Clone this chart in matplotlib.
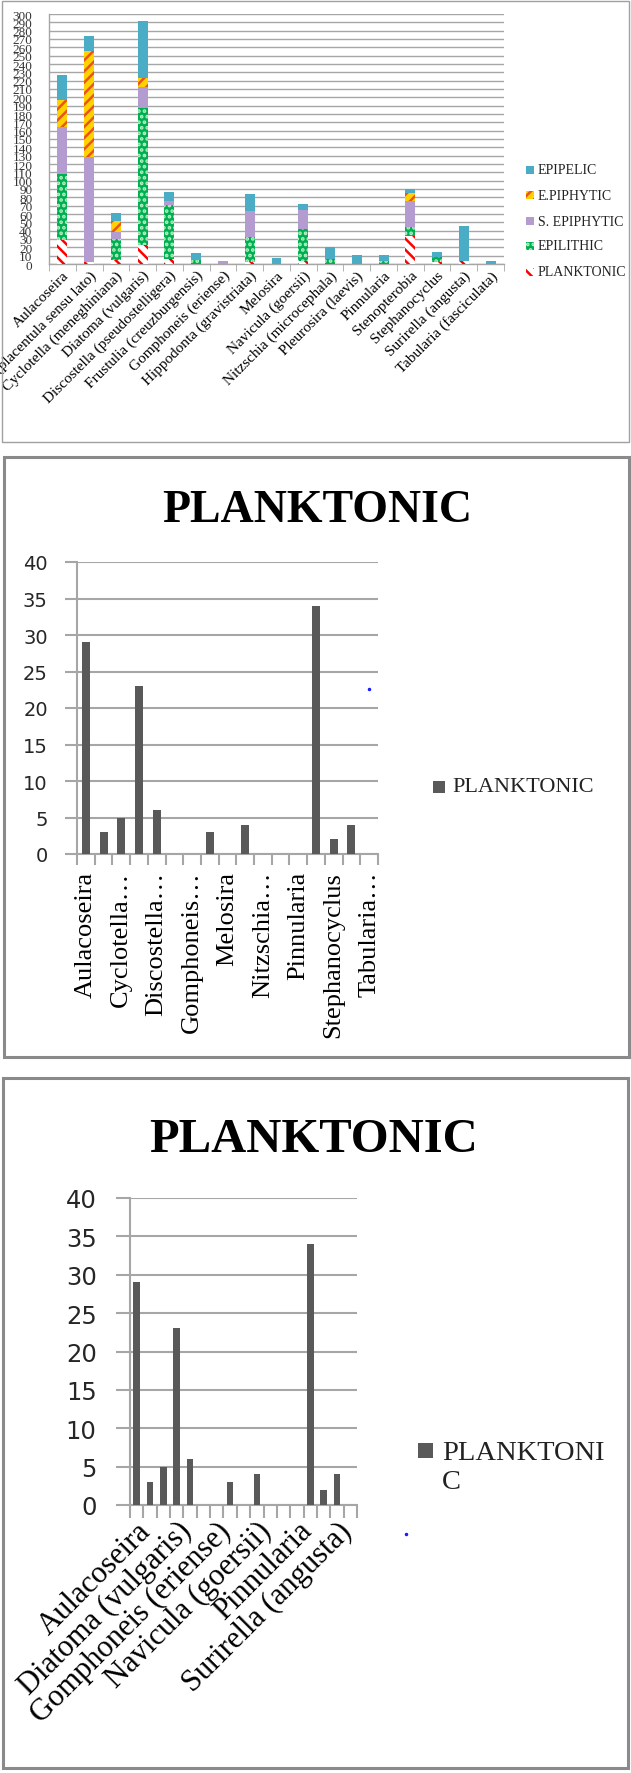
import matplotlib
matplotlib.use("Agg")
import matplotlib.pyplot as plt
from matplotlib.patches import Rectangle
from matplotlib.lines import Line2D
import numpy as np

W, H = 631, 1774

taxa = [
    "Aulacoseira", "Cocconeis (placentula sensu lato)", "Cyclotella (meneghiniana)",
    "Diatoma (vulgaris)", "Discostella (pseudostelligera)", "Frustulia (creuzburgensis)",
    "Gomphoneis (eriense)", "Hippodonta (gravistriata)", "Melosira", "Navicula (goersii)",
    "Nitzschia (microcephala)", "Pleurosira (laevis)", "Pinnularia", "Stenopterobia",
    "Stephanocyclus", "Surirella (angusta)", "Tabularia (fasciculata)",
]
planktonic = [29, 3, 5, 23, 6, 0, 0, 3, 0, 4, 0, 0, 0, 34, 2, 4, 0]
epilithic = [79, 0, 25, 164, 65, 5, 0, 30, 0, 38, 6, 0, 4, 10, 6, 0, 0]
s_epiphytic = [57, 126, 8, 25, 5, 0, 4, 31, 0, 23, 0, 0, 0, 32, 0, 0, 0]
e_piphytic = [32, 127, 14, 11, 0, 0, 0, 0, 0, 0, 0, 0, 0, 9, 0, 0, 0]
epipelic = [30, 18, 9, 69, 11, 8, 0, 20, 7, 7, 15, 11, 7, 5, 7, 42, 4]

panel2_labels = ["Aulacoseira", "Cyclotella…", "Discostella…", "Gomphoneis…", "Melosira",
                 "Nitzschia…", "Pinnularia", "Stephanocyclus", "Tabularia…"]
panel3_labels = ["Aulacoseira", "Diatoma (vulgaris)", "Gomphoneis (eriense)",
                 "Navicula (goersii)", "Pinnularia", "Surirella (angusta)"]

plt.rcParams["hatch.linewidth"] = 1.8
GRID = "#a6a6a6"
FRAME = "#8a8a8a"
BAR = "#595959"
SERIF = "Liberation Serif"


def px_axes(fig, x0, y0, x1, y1):
    return fig.add_axes([x0 / W, 1 - y1 / H, (x1 - x0) / W, (y1 - y0) / H])


def px_rect(fig, x0, y0, x1, y1, **kw):
    fig.add_artist(Rectangle((x0 / W, 1 - y1 / H), (x1 - x0) / W, (y1 - y0) / H,
                             transform=fig.transFigure, **kw))


def px_text(fig, x, y, s, **kw):
    fig.text(x / W, 1 - y / H, s, **kw)


def style_axes(ax, lw):
    for s in ["top", "right"]:
        ax.spines[s].set_visible(False)
    for s in ["left", "bottom"]:
        ax.spines[s].set_color(GRID)
        ax.spines[s].set_linewidth(lw)


fig = plt.figure(figsize=(W / 100, H / 100), dpi=100)
n = len(taxa)
x = np.arange(n)

# panel 1: stacked bars by habitat
px_rect(fig, 2, 2, 629, 443, fill=False, lw=1.0, ec="#a0a0a0")
ax1 = px_axes(fig, 49, 15, 504, 265)
series = [
    ("PLANKTONIC", planktonic, "white", "#ff0000", "\\\\\\"),
    ("EPILITHIC", epilithic, "#00b050", "#b8f0c8", "..."),
    ("S. EPIPHYTIC", s_epiphytic, "#b49bd0", "#b49bd0", None),
    ("E.PIPHYTIC", e_piphytic, "#ffd200", "#e8541c", "///"),
    ("EPIPELIC", epipelic, "#4bacc6", "#4bacc6", None),
]
bottom = np.zeros(n)
for name, vals, face, hcol, hatch in series:
    ax1.bar(x, vals, 0.37, bottom=bottom, color=face, edgecolor=hcol, hatch=hatch, linewidth=0, zorder=3)
    bottom += np.array(vals)
ax1.set_xlim(-0.5, n - 0.5)
ax1.set_ylim(0, 300)
ax1.set_yticks(range(0, 301, 10))
ax1.tick_params(axis="y", length=0, pad=12, labelsize=9.5, labelcolor="#333333")
for lab in ax1.get_yticklabels():
    lab.set_family(SERIF)
ax1.grid(axis="y", color=GRID, lw=1.0, zorder=0)
ax1.set_xticks(x)
ax1.set_xticklabels(taxa, rotation=45, ha="right", va="top", rotation_mode="anchor",
                    family=SERIF, fontsize=11)
ax1.tick_params(axis="x", length=0, pad=3)
ax1.set_xticks(np.arange(-0.5, n, 1), minor=True)
ax1.tick_params(axis="x", which="minor", length=5, color=GRID)
style_axes(ax1, 1.0)

legend_y = [273, 247, 222, 196, 171]
for (name, vals, face, hcol, hatch), ly in zip(series, legend_y):
    px_rect(fig, 526, ly - 4, 534, ly + 4, facecolor=face, edgecolor=hcol, hatch=hatch, lw=0)
    px_text(fig, 538, ly, name, family=SERIF, fontsize=10, va="center", color="#222222")

# panel 2: planktonic, vertical labels
px_rect(fig, 4, 458, 629, 1058, fill=False, lw=2.2, ec=FRAME)
px_text(fig, 317, 506, "PLANKTONIC", family=SERIF, weight="bold", fontsize=33,
        ha="center", va="center_baseline")
ax2 = px_axes(fig, 77, 563, 378, 855)
ax2.bar(x, planktonic, 0.45, color=BAR, zorder=3)
ax2.set_xlim(-0.5, n - 0.5)
ax2.set_ylim(0, 40)
ax2.set_yticks(range(0, 41, 5))
ax2.tick_params(axis="y", length=9, color=GRID, width=1.5, pad=12, labelsize=14, labelcolor="#262626")
ax2.grid(axis="y", color=GRID, lw=1.5, zorder=0)
ax2.set_xticks(x[::2])
ax2.set_xticklabels(panel2_labels, rotation=90, family=SERIF, fontsize=19, va="top", ha="center")
ax2.tick_params(axis="x", length=0, pad=12)
ax2.set_xticks(np.arange(-0.5, n, 1), minor=True)
ax2.tick_params(axis="x", which="minor", length=8, color=GRID, width=1.5)
style_axes(ax2, 1.5)
px_rect(fig, 433, 782, 445, 794, facecolor=BAR, lw=0)
px_text(fig, 452, 788, "PLANKTONIC", family=SERIF, fontsize=16, va="center", color="#222222")
fig.add_artist(Line2D([369 / W], [1 - 690 / H], marker="o", ms=1.5, color="#1a1aff",
                      transform=fig.transFigure))

# panel 3: planktonic, slanted labels
px_rect(fig, 3, 1079, 628, 1769, fill=False, lw=2.2, ec=FRAME)
px_text(fig, 314, 1135, "PLANKTONIC", family=SERIF, weight="bold", fontsize=35,
        ha="center", va="center_baseline")
ax3 = px_axes(fig, 130, 1199, 357, 1506)
ax3.bar(x, planktonic, 0.5, color=BAR, zorder=3)
ax3.set_xlim(-0.5, n - 0.5)
ax3.set_ylim(0, 40)
ax3.set_yticks(range(0, 41, 5))
ax3.tick_params(axis="y", length=10, color=GRID, width=1.5, pad=14, labelsize=17.5, labelcolor="#262626")
ax3.grid(axis="y", color=GRID, lw=1.5, zorder=0)
ax3.set_xticks(x[::3])
ax3.set_xticklabels(panel3_labels, rotation=45, ha="right", va="top", rotation_mode="anchor",
                    family=SERIF, fontsize=22)
ax3.tick_params(axis="x", length=0, pad=8)
ax3.set_xticks(np.arange(-0.5, n, 1), minor=True)
ax3.tick_params(axis="x", which="minor", length=9, color=GRID, width=1.5)
style_axes(ax3, 1.5)
px_rect(fig, 418, 1444, 433, 1459, facecolor=BAR, lw=0)
px_text(fig, 442, 1441, "PLANKTONI\nC", family=SERIF, fontsize=20.5, va="top",
        linespacing=1.2, color="#222222")
fig.add_artist(Line2D([406 / W], [1 - 1535 / H], marker="o", ms=1.5, color="#1a1aff",
                      transform=fig.transFigure))

fig.savefig("out.png", dpi=100)
